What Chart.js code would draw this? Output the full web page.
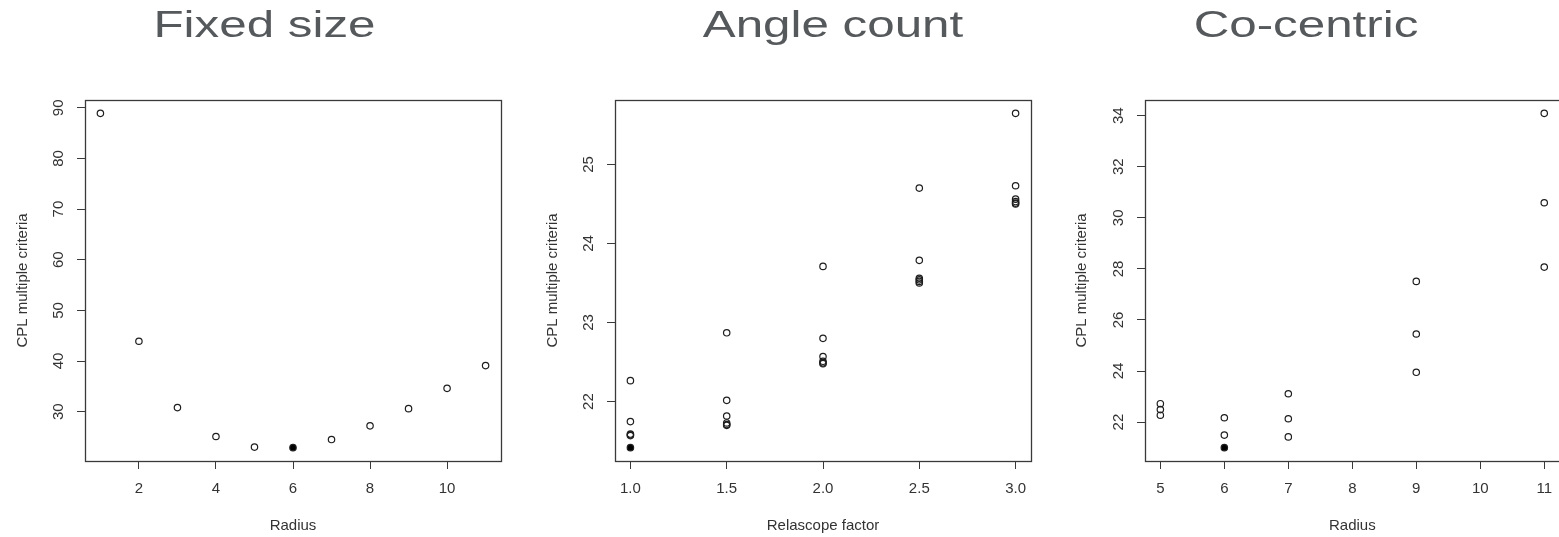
<!DOCTYPE html>
<html>
<head>
<meta charset="utf-8">
<script src="https://cdn.jsdelivr.net/npm/chart.js@4/dist/chart.umd.min.js"></script>
<style>
  html, body { margin: 0; padding: 0; background: #fff; overflow: hidden; width: 1559px; height: 537px; }
  canvas { position: absolute; top: 0; }
</style>
</head>
<body>
<canvas id="fixed" width="516" height="537" style="left:0px"></canvas>
<canvas id="angle" width="516" height="537" style="left:520px"></canvas>
<canvas id="cocentric" width="524" height="537" style="left:1040px"></canvas>
<script>
// Panel titles
const panelTitles = ['Fixed size', 'Angle count', 'Co-centric'];

// Fixed size: CPL multiple criteria by plot radius
const fixedRadius = [1, 2, 3, 4, 5, 6, 7, 8, 9, 10, 11];
const fixedCPL    = [88.9, 43.9, 30.8, 25.1, 23.0, 22.9, 24.5, 27.2, 30.6, 34.6, 39.1];
const fixedXTicks = [2, 4, 6, 8, 10];
const fixedYTicks = [30, 40, 50, 60, 70, 80, 90];

// Angle count: CPL multiple criteria by relascope factor
const angleFactor = [1.0, 1.0, 1.0, 1.0, 1.0, 1.0,
                     1.5, 1.5, 1.5, 1.5, 1.5, 1.5,
                     2.0, 2.0, 2.0, 2.0, 2.0, 2.0,
                     2.5, 2.5, 2.5, 2.5, 2.5, 2.5,
                     3.0, 3.0, 3.0, 3.0, 3.0, 3.0];
const angleCPL    = [22.265, 21.747, 21.59, 21.58, 21.57, 21.418,
                     22.87, 22.016, 21.818, 21.73, 21.71, 21.70,
                     23.71, 22.80, 22.57, 22.51, 22.49, 22.48,
                     24.70, 23.786, 23.56, 23.54, 23.52, 23.50,
                     25.645, 24.73, 24.56, 24.53, 24.51, 24.50];
const angleXTicks = [1.0, 1.5, 2.0, 2.5, 3.0];
const angleXLabels = ['1.0', '1.5', '2.0', '2.5', '3.0'];
const angleYTicks = [22, 23, 24, 25];

// Co-centric: CPL multiple criteria by outer radius
const coRadius = [5, 5, 5, 6, 6, 6, 7, 7, 7, 9, 9, 9, 11, 11, 11];
const coCPL    = [22.72, 22.49, 22.27, 22.17, 21.49, 21.0, 23.11, 22.13, 21.42,
                  27.51, 25.45, 23.95, 34.09, 30.59, 28.07];
const coXTicks = [5, 6, 7, 8, 9, 10, 11];
const coYTicks = [22, 24, 26, 28, 30, 32, 34];

const axisLabelX = ['Radius', 'Relascope factor', 'Radius'];
const axisLabelY = 'CPL multiple criteria';

// Axis range in the style of base R graphics: data range widened by 4% each side
function rRange(vals) {
  const lo = Math.min(...vals), hi = Math.max(...vals), d = (hi - lo) * 0.04;
  return { min: lo - d, max: hi + d };
}

const FONT = '"Liberation Sans", Arial, Helvetica, sans-serif';
const INK = '#333333';

// Large stretched heading above each panel
const panelTitle = {
  id: 'panelTitle',
  afterDraw(chart, args, opts) {
    const ctx = chart.ctx;
    ctx.save();
    ctx.font = '36px ' + FONT;
    ctx.fillStyle = '#56595c';
    ctx.textAlign = 'center';
    ctx.textBaseline = 'alphabetic';
    ctx.translate(opts.x, opts.y);
    ctx.scale(opts.stretch, 1);
    ctx.fillText(opts.text, 0, 0);
    ctx.restore();
  }
};

// Box around the plotting region
const plotFrame = {
  id: 'plotFrame',
  afterDraw(chart) {
    const { ctx, chartArea: a } = chart;
    ctx.save();
    ctx.strokeStyle = '#3a3a3a';
    ctx.lineWidth = 1.3;
    const l = Math.round(a.left) + 0.5, t = Math.round(a.top) + 0.5;
    const r = Math.round(a.right) + 0.5, b = Math.round(a.bottom) + 0.5;
    ctx.strokeRect(l, t, r - l, b - t);
    ctx.restore();
  }
};

function makePanel(canvasId, p) {
  const xr = rRange(p.x), yr = rRange(p.y);
  const minY = Math.min(...p.y);
  const points = p.x.map((x, i) => ({ x, y: p.y[i] }));
  return new Chart(document.getElementById(canvasId), {
    type: 'scatter',
    data: {
      datasets: [{
        data: points,
        pointRadius: 3.2,
        pointHoverRadius: 3.2,
        pointBorderWidth: 1.2,
        pointBorderColor: '#1e1e1e',
        // the lowest CPL value is drawn as a solid dot
        pointBackgroundColor: ctx => (ctx.raw && ctx.raw.y === minY) ? '#000000' : 'rgba(0,0,0,0)'
      }]
    },
    options: {
      responsive: false,
      animation: false,
      events: [],
      layout: { padding: { top: 100, left: 0, bottom: 0, right: p.padRight } },
      plugins: {
        legend: { display: false },
        tooltip: { enabled: false },
        panelTitle: { text: p.title, x: p.titleX, y: 37, stretch: 1.37 }
      },
      scales: {
        x: {
          type: 'linear',
          min: xr.min, max: xr.max,
          afterBuildTicks: s => { s.ticks = p.xTicks.map(v => ({ value: v })); },
          afterFit: s => { s.height = 76; s.paddingLeft = 0; s.paddingRight = 0; },
          grid: { display: true, drawOnChartArea: false, drawTicks: true, tickLength: 8, color: '#3a3a3a', lineWidth: 1 },
          border: { display: false },
          ticks: {
            autoSkip: false, maxRotation: 0, minRotation: 0, padding: 11,
            color: INK, font: { family: FONT, size: 15 },
            callback: (v, i) => p.xLabels ? p.xLabels[i] : String(v)
          },
          title: { display: true, text: p.xTitle, color: INK, font: { family: FONT, size: 15 }, padding: { top: 0, bottom: 2 } }
        },
        y: {
          type: 'linear',
          min: yr.min, max: yr.max,
          afterBuildTicks: s => { s.ticks = p.yTicks.map(v => ({ value: v })); },
          afterFit: s => { s.width = p.axisW; s.paddingTop = 0; s.paddingBottom = 0; },
          grid: { display: true, drawOnChartArea: false, drawTicks: true, tickLength: 8, color: '#3a3a3a', lineWidth: 1 },
          border: { display: false },
          ticks: {
            autoSkip: false, minRotation: 90, maxRotation: 90, crossAlign: 'center', padding: 10,
            color: INK, font: { family: FONT, size: 15 },
            callback: v => String(v)
          },
          title: { display: true, text: axisLabelY, color: INK, font: { family: FONT, size: 15 }, padding: { top: p.yTitlePad, bottom: 0 } }
        }
      }
    },
    plugins: [panelTitle, plotFrame]
  });
}

makePanel('fixed', {
  x: fixedRadius, y: fixedCPL, xTicks: fixedXTicks, yTicks: fixedYTicks,
  title: panelTitles[0], titleX: 264.5, xTitle: axisLabelX[0],
  axisW: 85, padRight: 15, yTitlePad: 13.5
});
makePanel('angle', {
  x: angleFactor, y: angleCPL, xTicks: angleXTicks, xLabels: angleXLabels, yTicks: angleYTicks,
  title: panelTitles[1], titleX: 313, xTitle: axisLabelX[1],
  axisW: 95, padRight: 5, yTitlePad: 23.5
});
makePanel('cocentric', {
  x: coRadius, y: coCPL, xTicks: coXTicks, yTicks: coYTicks,
  title: panelTitles[2], titleX: 266, xTitle: axisLabelX[2],
  axisW: 105, padRight: 3, yTitlePad: 33
});
</script>
</body>
</html>
